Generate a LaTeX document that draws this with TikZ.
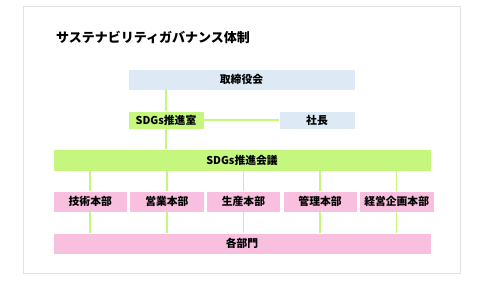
\documentclass[tikz,border=0pt]{standalone}
\usepackage{fontspec}
\newfontfamily\cjk{Noto Sans CJK JP}
\usepackage{xcolor}
\usetikzlibrary{positioning}
\definecolor{boardblue}{HTML}{DDEAF6}
\definecolor{sdggreen}{HTML}{C5F77E}
\definecolor{deptpink}{HTML}{F8BFDF}
\definecolor{framegray}{HTML}{E2E2E2}

\begin{document}
\begin{tikzpicture}[x=1pt, y=-1pt,
	box/.style={rectangle, inner sep=0pt, text centered, draw=white, line width=0.6pt, font=\cjk\bfseries\fontsize{10.8}{12}\selectfont},
	bluebox/.style={box, fill=boardblue},
	greenbox/.style={box, fill=sdggreen},
	pinkbox/.style={box, fill=deptpink, minimum width=74.5pt, minimum height=21pt},
	link/.style={draw=sdggreen, line width=1.6pt}]
			\useasboundingbox (0,0) rectangle (485,281);
			\draw [framegray, line width=1pt, fill=white] (23,6) rectangle (460,273);
			\node (title) [anchor=west, inner sep=0pt, font=\cjk\bfseries\fontsize{13}{15}\selectfont] at (56,37) {サステナビリティガバナンス体制};
			
			\node (board) [bluebox, minimum width=227pt, minimum height=21pt] at (241.5,79.5) {取締役会};
			\node (office) [greenbox, minimum width=76pt, minimum height=18pt] at (166,120) {SDGs推進室};
			\node (ceo) [bluebox, minimum width=76pt, minimum height=18pt] at (317,120) {社長};
			\node (meeting) [greenbox, minimum width=378pt, minimum height=22pt] at (242,160) {SDGs推進会議};
			
			%departments
			\node (tech) [pinkbox] at (90.25,201.5) {技術本部};
			\node (sales) [pinkbox, right=1.5pt of tech] {営業本部};
			\node (prod) [pinkbox, right=1.5pt of sales] {生産本部};
			\node (admin) [pinkbox, right=1.5pt of prod] {管理本部};
			\node (plan) [pinkbox, right=1.5pt of admin] {経営企画本部};
			\node (all) [pinkbox, minimum width=378pt] at (242,243.5) {各部門};
			
			\draw [link] (board.south -| office) -- (office.north);
			\draw [link] (office.south) -- (meeting.north -| office);
			\draw [link] (office.east) -- (ceo.west);
			\draw [link] (meeting.south -| tech) -- (tech.north);
			\draw [link] (meeting.south -| sales) -- (sales.north);
			\draw [link] (meeting.south -| prod) -- (prod.north);
			\draw [link] (meeting.south -| admin) -- (admin.north);
			\draw [link] (meeting.south -| plan) -- (plan.north);
			\draw [link] (tech.south) -- (all.north -| tech);
			\draw [link] (sales.south) -- (all.north -| sales);
			\draw [link] (prod.south) -- (all.north -| prod);
			\draw [link] (admin.south) -- (all.north -| admin);
			\draw [link] (plan.south) -- (all.north -| plan);
		\end{tikzpicture}
\end{document}
